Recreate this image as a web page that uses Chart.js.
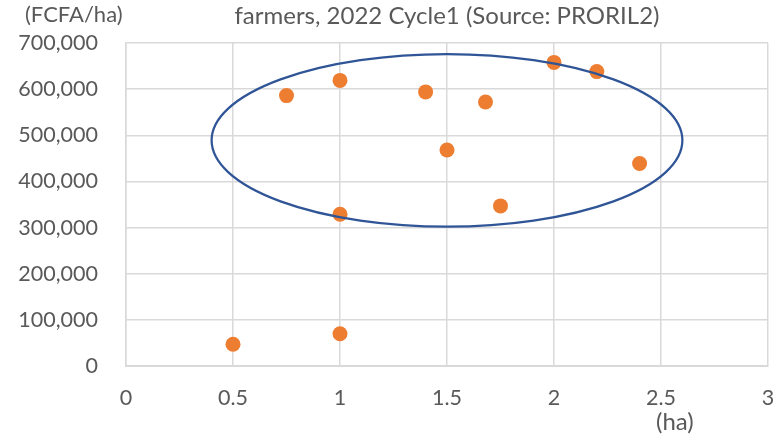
<!DOCTYPE html>
<html>
<head>
<meta charset="utf-8">
<script src="https://cdn.jsdelivr.net/npm/chart.js@4"></script>
<style>
  html, body { margin: 0; padding: 0; background: #fff; }
  #wrap { width: 782px; height: 435px; position: relative; }
</style>
</head>
<body>
<div id="wrap"><canvas id="scatterChart"></canvas></div>
<script>
// ---- data ----
const areaHa = [0.5, 1, 0.75, 1, 1, 1.4, 1.68, 1.5, 1.75, 2, 2.2, 2.4];
const incomePerHa = [47000, 70000, 586000, 619000, 329000, 594000, 572000, 468000, 347000, 658000, 638000, 439000];
const xTicks = [0, 0.5, 1, 1.5, 2, 2.5, 3];
const yTicks = [0, 100000, 200000, 300000, 400000, 500000, 600000, 700000];
const titleText = 'farmers, 2022 Cycle1 (Source: PRORIL2)';
const yUnit = '(FCFA/ha)';
const xUnit = '(ha)';
// ellipse drawn by hand in the original, in data units
const ellipseX = [0.40, 2.60];
const ellipseY = [302000, 676000];

const FONT = 'Lato, "Open Sans", sans-serif';
const TEXT = '#595959';

const points = areaHa.map((x, i) => ({ x: x, y: incomePerHa[i] }));

// draw the ellipse and the extra labels
const overlayPlugin = {
    id: 'overlay',
    afterDatasetsDraw(chart) {
        const ctx = chart.ctx;
        const xs = chart.scales.x, ys = chart.scales.y;
        const x0 = xs.getPixelForValue(ellipseX[0]), x1 = xs.getPixelForValue(ellipseX[1]);
        const y0 = ys.getPixelForValue(ellipseY[1]), y1 = ys.getPixelForValue(ellipseY[0]);
        ctx.save();
        ctx.beginPath();
        ctx.ellipse((x0 + x1) / 2, (y0 + y1) / 2, (x1 - x0) / 2, (y1 - y0) / 2, 0, 0, Math.PI * 2);
        ctx.strokeStyle = '#2F5597';
        ctx.lineWidth = 2.25;
        ctx.stroke();

        const area = chart.chartArea;
        ctx.fillStyle = TEXT;
        ctx.textBaseline = 'middle';
        ctx.font = '24px ' + FONT;
        ctx.textAlign = 'center';
        ctx.fillText(titleText, (area.left + area.right) / 2, 16);
        ctx.font = '22px ' + FONT;
        ctx.textAlign = 'left';
        ctx.fillText(yUnit, 25, 15);
        ctx.font = '24px ' + FONT;
        ctx.fillText(xUnit, 656, 422);
        ctx.restore();
    }
};

new Chart(document.getElementById('scatterChart'), {
    type: 'scatter',
    data: {
        datasets: [{
            data: points,
            backgroundColor: '#ED7D31',
            borderColor: '#ED7D31',
            pointRadius: 7.5,
            pointHoverRadius: 7.5,
            borderWidth: 0
        }]
    },
    options: {
        responsive: true,
        maintainAspectRatio: false,
        animation: false,
        layout: { padding: { top: 43, right: 14, bottom: 0, left: 0 } },
        plugins: { legend: { display: false }, tooltip: { enabled: false } },
        scales: {
            x: {
                type: 'linear',
                min: 0, max: 3,
                afterBuildTicks: s => { s.ticks = xTicks.map(v => ({ value: v })); },
                afterFit: s => { s.height = 69; s.paddingLeft = 0; s.paddingRight = 0; },
                grid: { color: '#D9D9D9', lineWidth: 1.5, drawTicks: false },
                border: { color: '#D9D9D9', width: 2 },
                ticks: { color: TEXT, font: { family: FONT, size: 21.5 }, padding: 19, callback: v => String(v) }
            },
            y: {
                min: 0, max: 700000,
                afterBuildTicks: s => { s.ticks = yTicks.map(v => ({ value: v })); },
                afterFit: s => { s.width = 126; },
                grid: { color: '#D9D9D9', lineWidth: 1.5, drawTicks: false },
                border: { color: '#D9D9D9', width: 1.5 },
                ticks: { color: TEXT, font: { family: FONT, size: 21.5 }, padding: 28,
                         callback: v => v.toLocaleString('en-US') }
            }
        }
    },
    plugins: [overlayPlugin]
});
</script>
</body>
</html>
